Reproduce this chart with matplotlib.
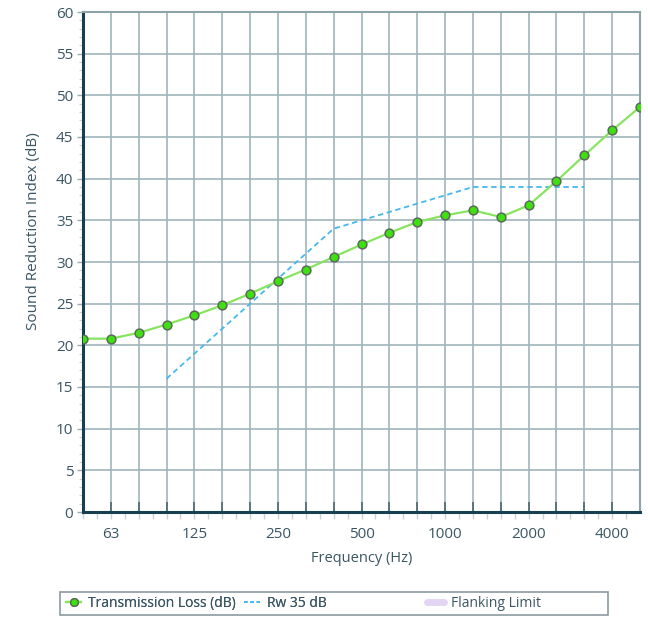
import matplotlib
matplotlib.use("Agg")
import matplotlib.pyplot as plt
from matplotlib.lines import Line2D
from matplotlib.patches import Rectangle
import numpy as np

plt.rcParams['font.family'] = ['Open Sans', 'DejaVu Sans']

# Third-octave bands
bands = [50, 63, 80, 100, 125, 160, 200, 250, 315, 400, 500, 630, 800,
         1000, 1250, 1600, 2000, 2500, 3150, 4000, 5000]
tick_label_bands = [63, 125, 250, 500, 1000, 2000, 4000]

# Transmission loss (dB) at each band
tl_values = [20.8, 20.8, 21.5, 22.5, 23.6, 24.8, 26.2, 27.7, 29.1, 30.6, 32.1,
             33.5, 34.8, 35.6, 36.2, 35.4, 36.8, 39.7, 42.8, 45.8, 48.6]

# Shifted reference curve Rw 35 dB (100 Hz - 3150 Hz)
rw_bands = [100, 125, 160, 200, 250, 315, 400, 500, 630, 800, 1000, 1250,
            1600, 2000, 2500, 3150]
rw_values = [16, 19, 22, 25, 28, 31, 34, 35, 36, 37, 38, 39, 39, 39, 39, 39]

idx = {b: i for i, b in enumerate(bands)}
x_tl = [idx[b] for b in bands]
x_rw = [idx[b] for b in rw_bands]

dark = '#173f4f'
label_col = '#3a5663'
grid_col = '#9fb4bc'

fig = plt.figure(figsize=(6.48, 6.18), dpi=100)
ax = fig.add_axes([83 / 648, 1 - 512 / 618, 557 / 648, 500 / 618])

ax.plot(x_rw, rw_values, color='#45b8ee', lw=1.3, linestyle=(0, (3, 2)), zorder=3)
ax.plot(x_tl, tl_values, color='#88e460', lw=1.6, marker='o', markersize=6.3,
        markerfacecolor='#3fe010', markeredgecolor='#5a6a5a', markeredgewidth=1.1,
        zorder=4)

ax.set_xlim(0, len(bands) - 1)
ax.set_ylim(0, 60)

ax.set_xticks(range(len(bands)))
ax.set_xticklabels([str(b) if b in tick_label_bands else '' for b in bands])
ax.set_xticks(np.arange(0, len(bands) - 1, 0.5), minor=True)
ax.xaxis.remove_overlapping_locs = False
ax.set_yticks(np.arange(0, 61, 5))
ax.set_yticks(np.arange(0, 61, 1), minor=True)

ax.tick_params(axis='x', which='major', direction='in', length=7, width=1.2,
               color='#4a6670', labelsize=11, labelcolor=label_col, pad=11)
ax.tick_params(axis='x', which='minor', direction='out', length=5, width=1.0,
               color='#c9d3d7')
ax.tick_params(axis='y', which='major', direction='out', length=4, width=1.0,
               color='#9aabb1', labelsize=11, labelcolor=label_col, pad=3)
ax.tick_params(axis='y', which='minor', direction='out', length=3, width=0.8,
               color='#c9d3d7')

ax.grid(True, which='major', color=grid_col, lw=1.2)
ax.set_axisbelow(True)

for s in ['left', 'bottom']:
    ax.spines[s].set_color(dark)
    ax.spines[s].set_linewidth(2.2)
for s in ['top', 'right']:
    ax.spines[s].set_color('#8ea2a9')
    ax.spines[s].set_linewidth(1.5)

ax.set_xlabel('Frequency (Hz)', fontsize=10.5, color=label_col, labelpad=6)
ax.set_ylabel('Sound Reduction Index (dB)', fontsize=11, color=label_col)
ax.yaxis.set_label_coords(-0.075, 0.562)

# Legend frame
fig.add_artist(Rectangle((60 / 648, 1 - 615 / 618), 548 / 648, 23 / 618,
                         transform=fig.transFigure, fill=False,
                         edgecolor='#8a9ba2', lw=1.2))

h_tl = Line2D([], [], color='#88e460', lw=1.6, marker='o', markersize=5.5,
              markerfacecolor='#3fe010', markeredgecolor='#5a6a5a')
h_rw = Line2D([], [], color='#45b8ee', lw=1.3, linestyle=(0, (2, 1.5)))
h_fl = Line2D([], [], color='#e2d4f5', lw=5, solid_capstyle='round')

leg1 = fig.legend([h_tl, h_rw], ['Transmission Loss (dB)', 'Rw 35 dB'],
                  loc='center left', bbox_to_anchor=(66 / 648, 1 - 603.5 / 618),
                  ncol=2, frameon=False, fontsize=10, handlelength=1.1,
                  handletextpad=0.5, columnspacing=0.6, borderpad=0,
                  borderaxespad=0)
for t in leg1.get_texts():
    t.set_color(label_col)
leg2 = fig.legend([h_fl], ['Flanking Limit'],
                  loc='center left', bbox_to_anchor=(427 / 648, 1 - 603.5 / 618),
                  frameon=False, fontsize=10, handlelength=1.2,
                  handletextpad=0.5, borderpad=0, borderaxespad=0)
for t in leg2.get_texts():
    t.set_color(label_col)
fig.add_artist(leg1)

fig.savefig('out.png', dpi=100)
